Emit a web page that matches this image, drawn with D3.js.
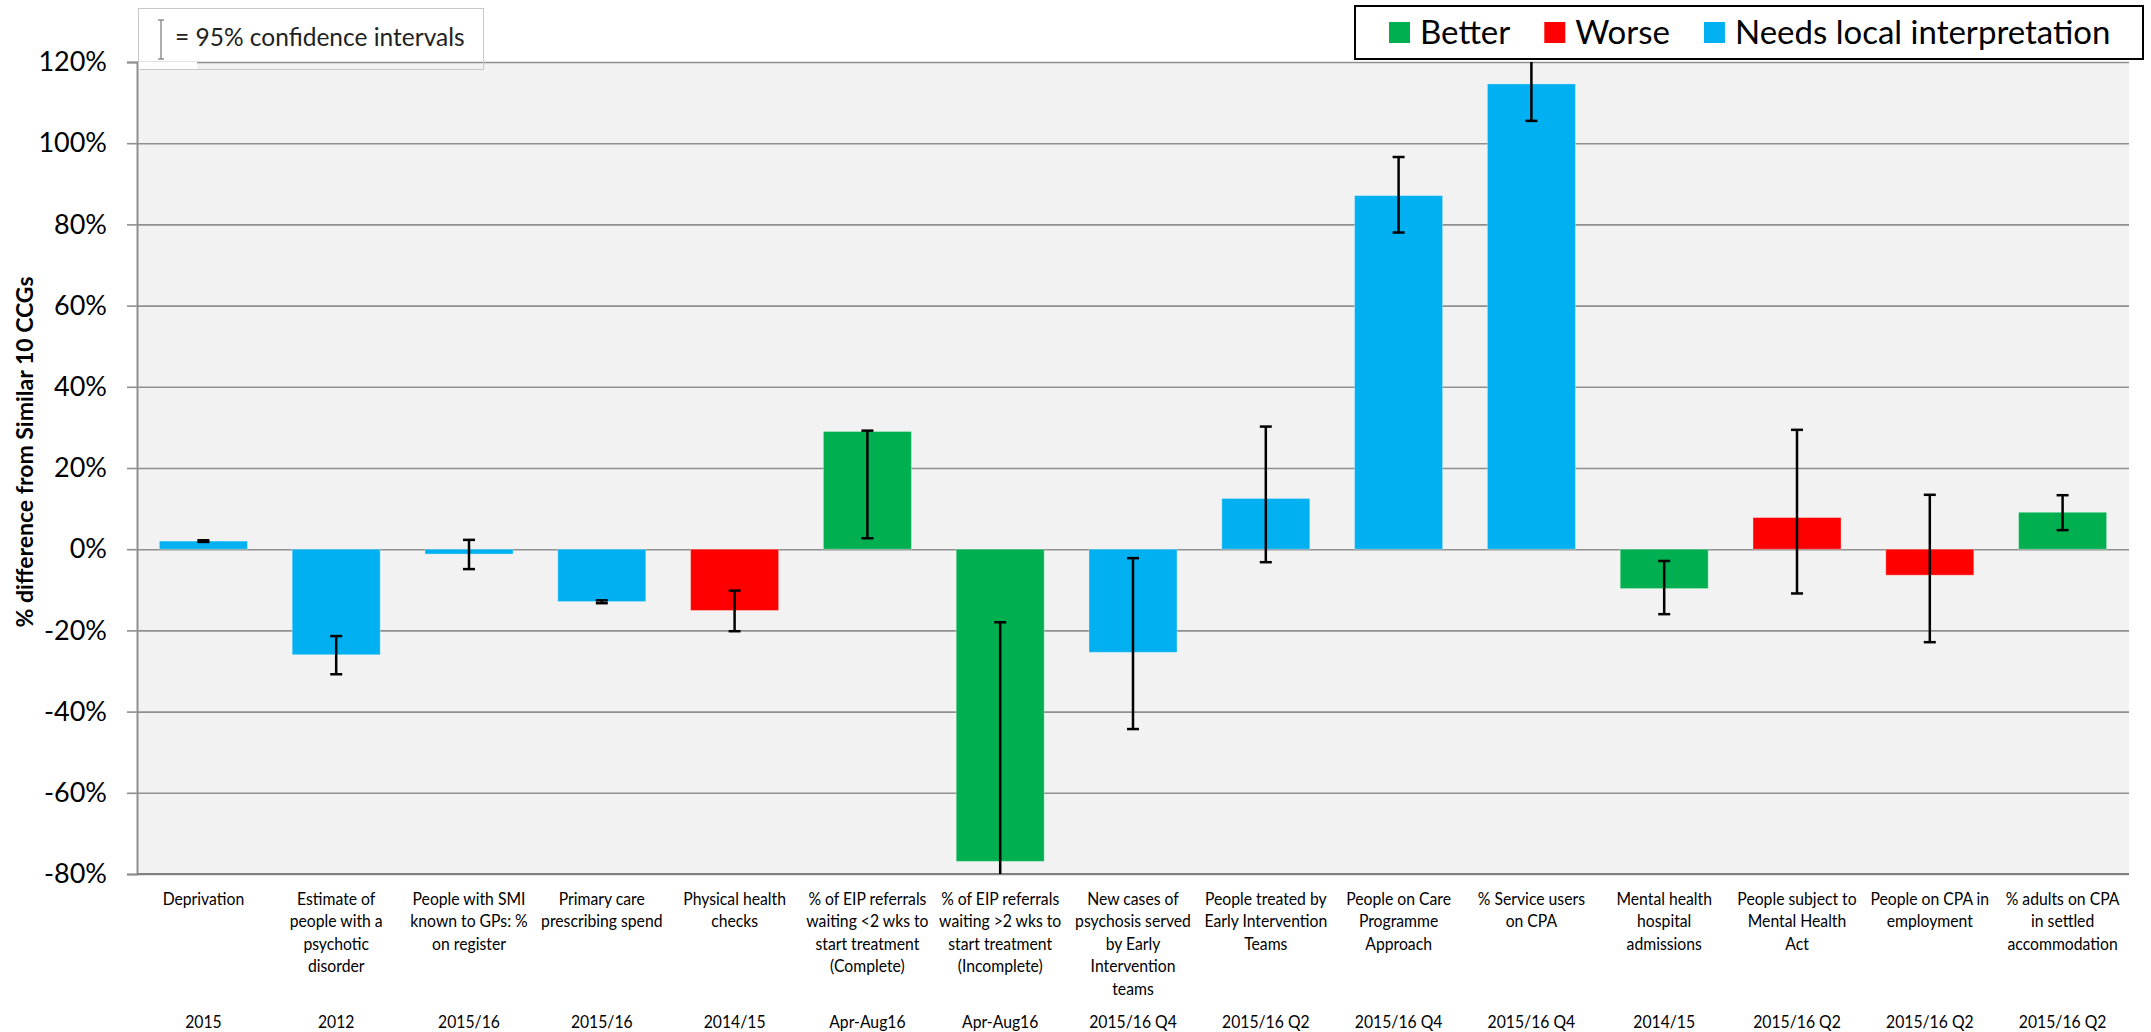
<!DOCTYPE html>
<html>
<head>
<meta charset="utf-8">
<script src="https://cdn.jsdelivr.net/npm/d3@7"></script>
<style>
  html, body { margin: 0; padding: 0; background: #ffffff; }
  svg { display: block; }
  text { font-family: Lato, "Open Sans", "DejaVu Sans", sans-serif; }
</style>
</head>
<body>
<svg id="chart" width="2151" height="1032"></svg>
<script>
// ---------------- data ----------------
const categories = [
  "Deprivation",
  "Estimate of people with a psychotic disorder",
  "People with SMI known to GPs: % on register",
  "Primary care prescribing spend",
  "Physical health checks",
  "% of EIP referrals waiting <2 wks to start treatment (Complete)",
  "% of EIP referrals waiting >2 wks to start treatment (Incomplete)",
  "New cases of psychosis served by Early Intervention teams",
  "People treated by Early Intervention Teams",
  "People on Care Programme Approach",
  "% Service users on CPA",
  "Mental health hospital admissions",
  "People subject to Mental Health Act",
  "People on CPA in employment",
  "% adults on CPA in settled accommodation"
];
const labelLines = [
  ["Deprivation"],
  ["Estimate of", "people with a", "psychotic", "disorder"],
  ["People with SMI", "known to GPs: %", "on register"],
  ["Primary care", "prescribing spend"],
  ["Physical health", "checks"],
  ["% of EIP referrals", "waiting <2 wks to", "start treatment", "(Complete)"],
  ["% of EIP referrals", "waiting >2 wks to", "start treatment", "(Incomplete)"],
  ["New cases of", "psychosis served", "by Early", "Intervention", "teams"],
  ["People treated by", "Early Intervention", "Teams"],
  ["People on Care", "Programme", "Approach"],
  ["% Service users", "on CPA"],
  ["Mental health", "hospital", "admissions"],
  ["People subject to", "Mental Health", "Act"],
  ["People on CPA in", "employment"],
  ["% adults on CPA", "in settled", "accommodation"]
];
const periods = ["2015", "2012", "2015/16", "2015/16", "2014/15", "Apr-Aug16", "Apr-Aug16",
  "2015/16 Q4", "2015/16 Q2", "2015/16 Q4", "2015/16 Q4", "2014/15", "2015/16 Q2", "2015/16 Q2", "2015/16 Q2"];
const values = [2.0, -26.0, -1.2, -12.9, -15.1, 29.0, -76.9, -25.4, 12.5, 87.1, 114.6, -9.7, 7.8, -6.4, 9.1];
const ciLow  = [1.8, -30.8, -4.9, -13.3, -20.2, 2.7, -100.0, -44.3, -3.2, 78.0, 105.5, -16.0, -10.9, -22.9, 4.7];
const ciHigh = [2.2, -21.4, 2.3, -12.6, -10.2, 29.2, -18.0, -2.2, 30.2, 96.6, 124.0, -2.9, 29.4, 13.4, 13.3];
const status = ["Needs local interpretation", "Needs local interpretation", "Needs local interpretation",
  "Needs local interpretation", "Worse", "Better", "Better", "Needs local interpretation",
  "Needs local interpretation", "Needs local interpretation", "Needs local interpretation",
  "Better", "Worse", "Worse", "Better"];
const statusNames = ["Better", "Worse", "Needs local interpretation"];
const statusColors = ["#00B050", "#FF0000", "#00B0F0"];
const yTicks = [-80, -60, -40, -20, 0, 20, 40, 60, 80, 100, 120];
const yTitle = "% difference from Similar 10 CCGs";
const ciLegendText = "= 95% confidence intervals";

// ---------------- layout ----------------
const svg = d3.select("#chart");
const pLeft = 137, pRight = 2129, pTop = 62, pBottom = 874;

const x = d3.scaleBand().domain(d3.range(categories.length))
  .range([pLeft, pRight]).paddingInner(0.337).paddingOuter(0.1685);
const y = d3.scaleLinear().domain([-80, 120]).range([pBottom, pTop]);
const color = d3.scaleOrdinal().domain(statusNames).range(statusColors);

// plot background
svg.append("rect").attr("x", pLeft).attr("y", pTop).attr("width", pRight - pLeft).attr("height", pBottom - pTop)
  .attr("fill", "#F2F2F2");

// gridlines
const grid = svg.append("g").attr("transform", `translate(${pLeft},0)`)
  .call(d3.axisLeft(y).tickValues(yTicks).tickSize(-(pRight - pLeft)).tickFormat(""));
grid.select(".domain").remove();
grid.selectAll(".tick line").attr("stroke", "#8f8f8f").attr("stroke-width", 1.6);

// y axis with outward ticks
const yAxis = svg.append("g").attr("transform", `translate(${pLeft},0)`)
  .call(d3.axisLeft(y).tickValues(yTicks).tickSize(10).tickPadding(20).tickFormat(d => d + "%"));
yAxis.select(".domain").attr("stroke", "#8f8f8f").attr("stroke-width", 2);
yAxis.selectAll(".tick line").attr("stroke", "#8f8f8f").attr("stroke-width", 1.6);
yAxis.selectAll(".tick text").attr("font-size", 27).attr("fill", "#000")
  .attr("font-family", "Lato, sans-serif").attr("x", -30);

// bottom axis line
svg.append("line").attr("x1", pLeft).attr("x2", pRight).attr("y1", y(-80)).attr("y2", y(-80))
  .attr("stroke", "#808080").attr("stroke-width", 2.2);

// y title
svg.append("text").attr("transform", `translate(33,452) rotate(-90)`)
  .attr("text-anchor", "middle").attr("font-size", 23).attr("font-weight", "bold").attr("fill", "#000")
  .text(yTitle);

// clip
svg.append("clipPath").attr("id", "plotclip").append("rect")
  .attr("x", pLeft).attr("y", pTop).attr("width", pRight - pLeft).attr("height", pBottom - pTop);

// bars
svg.append("g").selectAll("rect").data(values).join("rect")
  .attr("x", (d, i) => x(i))
  .attr("width", x.bandwidth())
  .attr("y", d => Math.min(y(d), y(0)))
  .attr("height", d => Math.abs(y(d) - y(0)))
  .attr("fill", (d, i) => color(status[i]))
  .attr("stroke", "rgba(255,255,255,0.35)").attr("stroke-width", 1);

// error bars
const eb = svg.append("g").attr("clip-path", "url(#plotclip)")
  .attr("stroke", "#000").attr("stroke-width", 2.5);
const cap = 6;
values.forEach((v, i) => {
  const cx = x(i) + x.bandwidth() / 2;
  eb.append("line").attr("x1", cx).attr("x2", cx).attr("y1", y(ciLow[i])).attr("y2", y(ciHigh[i]));
  eb.append("line").attr("x1", cx - cap).attr("x2", cx + cap).attr("y1", y(ciLow[i])).attr("y2", y(ciLow[i]));
  eb.append("line").attr("x1", cx - cap).attr("x2", cx + cap).attr("y1", y(ciHigh[i])).attr("y2", y(ciHigh[i]));
});

// category labels (slightly condensed to mimic the narrow original face)
const lab = svg.append("g").attr("font-size", 17.5).attr("fill", "#000").attr("text-anchor", "middle");
labelLines.forEach((lines, i) => {
  const cx = x(i) + x.bandwidth() / 2;
  const g = lab.append("g").attr("transform", `translate(${cx},0) scale(0.9,1)`);
  const t = g.append("text").attr("x", 0).attr("y", 905);
  lines.forEach((ln, k) => {
    t.append("tspan").attr("x", 0).attr("y", 905 + k * 22.5).text(ln);
  });
  g.append("text").attr("x", 0).attr("y", 1028).text(periods[i]);
});

// CI legend box (top-left)
svg.append("rect").attr("x", pLeft + 1).attr("y", pTop).attr("width", 59).attr("height", 8).attr("fill", "#fff");
svg.append("rect").attr("x", 138.5).attr("y", 8.5).attr("width", 345).attr("height", 61)
  .attr("fill", "none").attr("stroke", "#c8c8c8").attr("stroke-width", 1);
const ig = svg.append("g").attr("stroke", "#777").attr("stroke-width", 1.2);
ig.append("line").attr("x1", 161).attr("x2", 161).attr("y1", 20).attr("y2", 59);
ig.append("line").attr("x1", 158).attr("x2", 164).attr("y1", 20).attr("y2", 20);
ig.append("line").attr("x1", 158).attr("x2", 164).attr("y1", 59).attr("y2", 59);
svg.append("text").attr("x", 175).attr("y", 46).attr("font-size", 24.5).attr("fill", "#222").text(ciLegendText);

// status legend (top-right)
svg.append("rect").attr("x", 1355).attr("y", 6).attr("width", 788).attr("height", 53)
  .attr("fill", "#fff").attr("stroke", "#000").attr("stroke-width", 2);
let lx = 1389;
statusNames.forEach((name, i) => {
  svg.append("rect").attr("x", lx).attr("y", 22).attr("width", 21).attr("height", 21).attr("fill", statusColors[i]);
  const t = svg.append("text").attr("x", lx + 31).attr("y", 44).attr("font-size", 33).attr("fill", "#000").text(name);
  lx = lx + 31 + t.node().getComputedTextLength() + 34;
});
</script>
</body>
</html>
